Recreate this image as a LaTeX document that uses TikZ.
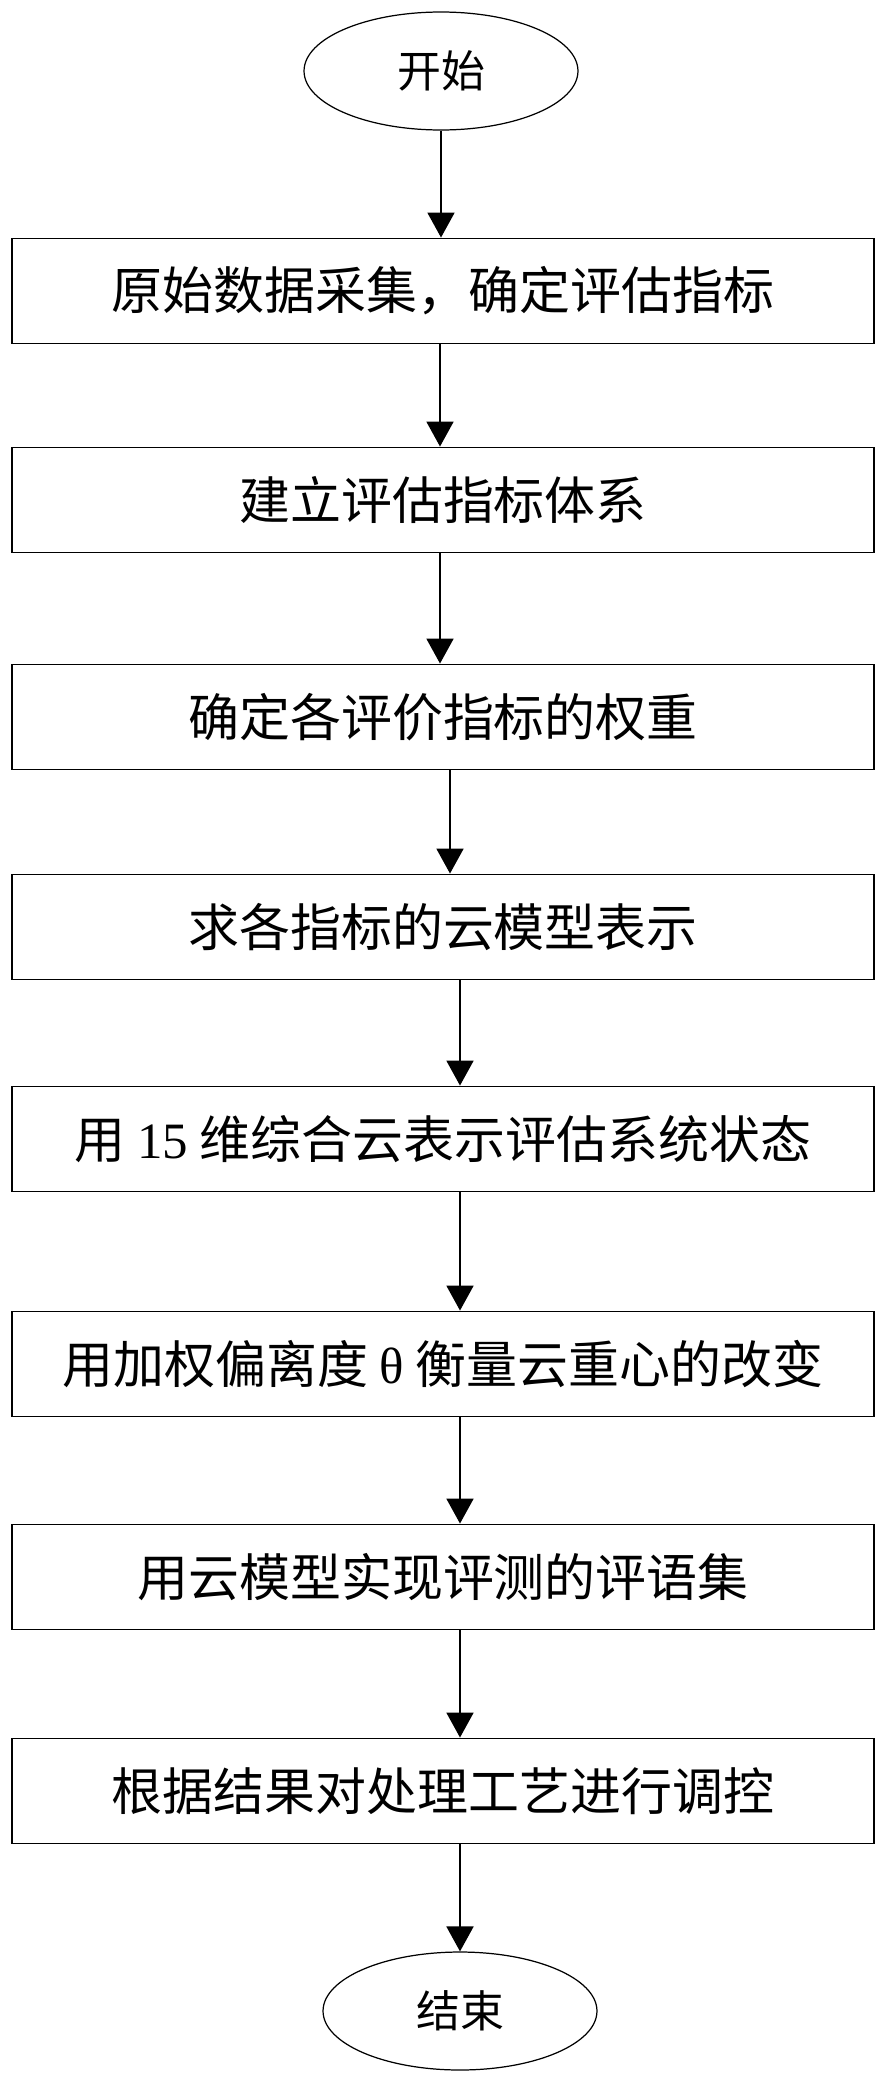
\documentclass[tikz,border=0pt]{standalone}
\usepackage{fontspec}
\usepackage{tikz}
\usetikzlibrary{shapes.geometric,arrows.meta}
\setmainfont{Noto Sans CJK SC}
\newfontfamily\latin{Liberation Serif}

\tikzset{
	stepbox/.style={draw=black,line width=1.1pt,minimum width=17.26cm,minimum height=2.1cm,inner sep=0pt,font=\fontsize{29pt}{34pt}\selectfont},
	terminal/.style={draw=black,ellipse,line width=0.7pt,minimum width=5.48cm,minimum height=2.36cm,inner sep=0pt,font=\fontsize{25pt}{30pt}\selectfont},
	flow/.style={draw=black,line width=1.1pt,-{Triangle[length=0.5cm,width=0.54cm]}}
}

\begin{document}
\begin{tikzpicture}[x=0.02cm,y=-0.02cm]
	\useasboundingbox (0,0) rectangle (886,2079);
\node[terminal] (start) at (441,71) {开始};
\node[stepbox] (b1) at (443,291) {原始数据采集，确定评估指标};
\node[stepbox] (b2) at (443,500) {建立评估指标体系};
\node[stepbox] (b3) at (443,717) {确定各评价指标的权重};
\node[stepbox] (b4) at (443,927) {求各指标的云模型表示};
\node[stepbox] (b5) at (443,1139) {用 {\latin 15} 维综合云表示评估系统状态};
\node[stepbox] (b6) at (443,1364) {用加权偏离度 {\latin θ} 衡量云重心的改变};
\node[stepbox] (b7) at (443,1577) {用云模型实现评测的评语集};
\node[stepbox] (b8) at (443,1791) {根据结果对处理工艺进行调控};
\node[terminal] (end) at (460,2011) {结束};

\draw[flow] (start.south) -- (start.south |- b1.north);
\draw[flow] ([xshift=-0.06cm]b1.south) -- ([xshift=-0.06cm]b2.north);
\draw[flow] ([xshift=-0.06cm]b2.south) -- ([xshift=-0.06cm]b3.north);
\draw[flow] ([xshift=0.14cm]b3.south) -- ([xshift=0.14cm]b4.north);
\draw[flow] ([xshift=0.34cm]b4.south) -- ([xshift=0.34cm]b5.north);
\draw[flow] ([xshift=0.34cm]b5.south) -- ([xshift=0.34cm]b6.north);
\draw[flow] ([xshift=0.34cm]b6.south) -- ([xshift=0.34cm]b7.north);
\draw[flow] ([xshift=0.34cm]b7.south) -- ([xshift=0.34cm]b8.north);
\draw[flow] (b8.south -| end.north) -- (end.north);

\end{tikzpicture}
\end{document}
